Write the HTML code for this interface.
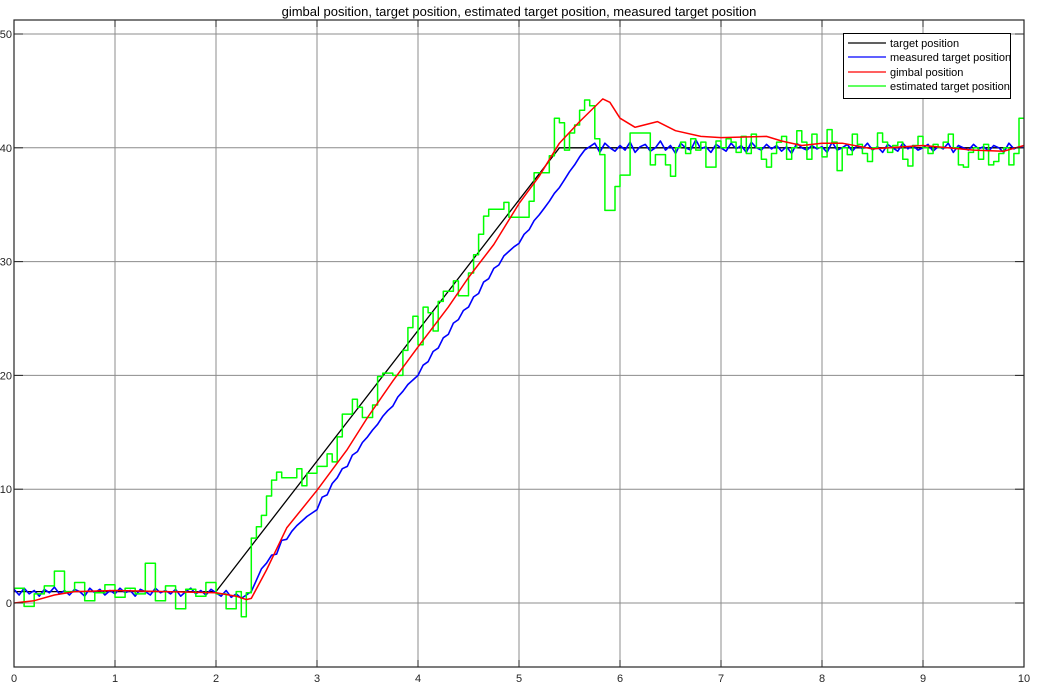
<!DOCTYPE html>
<html><head><meta charset="utf-8"><style>
html,body{margin:0;padding:0;background:#fff;}
svg{display:block;font-family:"Liberation Sans",Arial,sans-serif;}
</style></head><body>
<svg id="chart" width="1038" height="688" viewBox="0 0 1038 688" xmlns="http://www.w3.org/2000/svg">
<rect x="0" y="0" width="1038" height="688" fill="#fff"/>
<text x="519" y="16" text-anchor="middle" font-size="13" fill="#000">gimbal position, target position, estimated target position, measured target position</text>
<g id="grid"></g><g id="series"></g><g id="axes"></g>
<g>
<rect x="843.5" y="33.5" width="167" height="65" fill="#fff" stroke="#000" stroke-width="1"/>
<g><line x1="848" y1="43" x2="886" y2="43" stroke="#000" stroke-width="1.2"/><text x="890" y="47" font-size="11" fill="#000">target position</text></g>
<g><line x1="848" y1="57" x2="886" y2="57" stroke="#0000ff" stroke-width="1.2"/><text x="890" y="61" font-size="11" fill="#000">measured target position</text></g>
<g><line x1="848" y1="72" x2="886" y2="72" stroke="#ff0000" stroke-width="1.2"/><text x="890" y="76" font-size="11" fill="#000">gimbal position</text></g>
<g><line x1="848" y1="86" x2="886" y2="86" stroke="#00ff00" stroke-width="1.2"/><text x="890" y="90" font-size="11" fill="#000">estimated target position</text></g>
</g>
</svg>
<script>
const xTicks=[0,1,2,3,4,5,6,7,8,9,10];
const yTicks=[0,10,20,30,40,50];
const targetT=[0,2.0,5.4,10];
const targetV=[1,1,40,40];
const measuredV=[
1.2,0.7,1.3,0.8,1.1,0.6,1.2,0.9,1.4,0.8,
1.1,0.7,1.2,1.0,0.6,1.3,0.9,1.2,0.7,1.1,
0.8,1.3,0.9,1.1,0.6,1.2,1.0,0.7,1.3,0.9,
1.1,0.8,1.2,0.6,1.0,1.3,0.8,1.1,0.7,1.2,
0.9,0.6,1.1,0.5,0.8,0.4,0.7,1.0,2.0,3.0,
3.5,4.2,4.3,5.5,5.6,6.3,6.8,7.2,7.6,7.9,
8.2,9.3,9.5,10.5,11.0,11.8,12.0,13.0,13.3,14.1,
14.6,15.2,15.7,16.4,16.9,17.3,18.1,18.6,19.2,19.6,
20.0,20.9,21.2,22.1,22.4,23.3,23.6,24.6,24.9,25.7,
26.0,26.9,27.2,28.2,28.5,29.4,29.7,30.5,30.9,31.3,
31.6,32.4,32.8,33.6,34.1,34.7,35.3,36.0,36.5,37.2,
37.9,38.5,39.2,39.8,40.1,40.4,39.6,40.4,40.0,39.7,
40.2,39.8,40.5,39.6,40.1,40.3,39.7,40.0,40.6,39.8,
40.2,39.5,40.4,40.0,39.8,40.7,39.9,40.1,39.6,40.3,
40.0,39.7,40.4,39.9,40.2,39.6,40.5,40.0,39.8,40.3,
39.9,40.2,39.7,40.1,39.5,40.4,40.0,39.8,40.2,39.9,
40.1,39.6,40.5,39.8,40.0,40.3,39.7,40.2,39.9,40.4,
39.8,40.1,39.6,40.3,40.0,39.7,40.4,39.9,40.2,39.8,
40.0,40.3,39.7,40.1,39.9,40.4,39.6,40.2,40.0,39.8,
40.3,39.9,40.1,39.7,40.2,40.0,39.6,40.4,39.9,40.1,
40.0];
const measuredDt=0.05;
const gimbalT=[0,0.2,0.4,0.6,1.0,1.5,2.0,2.2,2.3,2.35,2.5,2.7,3.0,3.3,3.5,3.75,4.0,4.3,4.5,4.75,5.0,5.2,5.4,5.6,5.83,5.9,6.0,6.15,6.37,6.55,6.8,7.0,7.45,7.6,7.8,8.0,8.2,8.5,9.0,9.5,9.8,10];
const gimbalV=[0,0.2,0.7,1.0,1.1,1.0,0.9,0.6,0.3,0.4,2.9,6.6,9.9,13.5,16.3,19.5,22.5,26,28.6,31.5,35.1,37.5,40.4,42.3,44.3,44.0,42.6,41.8,42.3,41.5,41.0,40.9,41.0,40.6,40.2,40.4,40.4,39.9,40.2,39.8,39.7,40.2];
const estimatedV=[
1.3,1.3,-0.3,-0.3,0.8,0.8,1.5,1.5,2.8,2.8,
1.0,1.0,1.8,1.8,0.2,0.2,0.9,0.9,1.6,1.6,
0.5,0.5,1.3,1.3,0.8,0.8,3.5,3.5,0.2,0.2,
1.5,1.5,-0.5,-0.5,1.2,1.2,0.6,0.6,1.8,1.8,
0.8,0.8,-0.5,-0.5,1.0,-1.2,0.9,5.7,6.7,7.7,
9.4,10.8,11.5,11.0,11.0,11.0,11.8,10.3,11.4,11.4,
12.0,12.0,13.1,12.4,14.6,16.6,16.6,17.9,17.2,16.3,
16.3,17.4,19.9,20.2,20.2,20.0,20.0,22.2,24.2,25.2,
22.7,26.0,25.5,23.9,26.5,27.4,27.4,28.3,27.0,27.0,
29.0,30.6,32.4,34.0,34.6,34.6,34.6,35.2,33.9,33.9,
33.9,33.9,35.3,37.8,37.8,37.8,39.3,42.6,42.2,39.8,
41.3,42.0,43.3,44.2,43.7,40.8,39.4,34.5,34.5,36.6,
37.6,37.6,41.3,41.3,41.3,41.3,38.5,39.4,39.4,38.5,
37.5,40.0,40.5,39.5,40.8,39.8,40.5,38.3,38.3,40.6,
40.0,40.8,40.5,39.6,41.0,39.5,41.2,40.0,39.0,38.3,
39.5,40.5,41.0,39.0,40.0,41.5,40.5,39.0,41.2,40.0,
39.2,41.6,40.5,38.0,40.0,39.4,41.2,40.3,39.5,38.8,
40.0,41.3,40.5,39.6,40.2,40.5,39.0,38.4,40.2,41.0,
40.0,39.5,40.3,40.0,40.5,41.2,40.0,38.5,38.3,39.6,
40.0,39.0,40.3,38.5,38.8,39.5,40.0,38.5,39.5,42.6];
const estimatedDt=0.05;

const L=14,R=1024,T=20,B=667;
const X=t=>L+(R-L)*t/10;
const Y=v=>603-v*11.38;
const NS="http://www.w3.org/2000/svg";
function mk(tag,attrs,parent){const e=document.createElementNS(NS,tag);for(const k in attrs)e.setAttribute(k,attrs[k]);parent.appendChild(e);return e;}
const grid=document.getElementById('grid'),ser=document.getElementById('series'),ax=document.getElementById('axes');
xTicks.forEach(t=>{
 const g=mk('line',{x1:X(t),x2:X(t),y1:T,y2:B,stroke:'#8c8c8c','stroke-width':1},grid);
 
 
 const lb=mk('text',{x:X(t),y:682,'text-anchor':'middle','font-size':11,fill:'#262626'},ax);
 lb.textContent=t;
 
 
 mk('line',{x1:X(t),x2:X(t),y1:B,y2:B-7,stroke:'#262626'},ax);
 mk('line',{x1:X(t),x2:X(t),y1:T,y2:T+7,stroke:'#262626'},ax);
});
yTicks.forEach(v=>{
 const g=mk('line',{x1:L,x2:R,y1:Y(v),y2:Y(v),stroke:'#8c8c8c','stroke-width':1},grid);
 
 
 const lb=mk('text',{x:12,y:Y(v)+4,'text-anchor':'end','font-size':11,fill:'#262626'},ax);
 lb.textContent=v;
 
 
 mk('line',{x1:L,x2:L+9,y1:Y(v),y2:Y(v),stroke:'#262626'},ax);
 mk('line',{x1:R,x2:R-9,y1:Y(v),y2:Y(v),stroke:'#262626'},ax);
});
const frame=mk('rect',{x:L,y:T,width:R-L,height:B-T,fill:'none',stroke:'#262626','stroke-width':1.2},ax);



function poly(pts,color,name,w){
 const p=mk('polyline',{points:pts.map(q=>q[0].toFixed(1)+','+q[1].toFixed(1)).join(' '),fill:'none',stroke:color,'stroke-width':w,'stroke-linejoin':'round'},ser);
 
 
}
poly(targetT.map((t,i)=>[X(t),Y(targetV[i])]),'#000','target-position-line',1.3);
poly(measuredV.map((v,i)=>[X(i*measuredDt),Y(v)]),'#0000ff','measured-target-position-line',1.6);
const ep=[];
estimatedV.forEach((v,i)=>{ep.push([X(i*estimatedDt),Y(v)]);ep.push([X(Math.min(10,(i+1)*estimatedDt)),Y(v)]);});
poly(ep,'#00ff00','estimated-target-position-line',1.5);
poly(gimbalT.map((t,i)=>[X(t),Y(gimbalV[i])]),'#ff0000','gimbal-position-line',1.5);
</script>
</body></html>
